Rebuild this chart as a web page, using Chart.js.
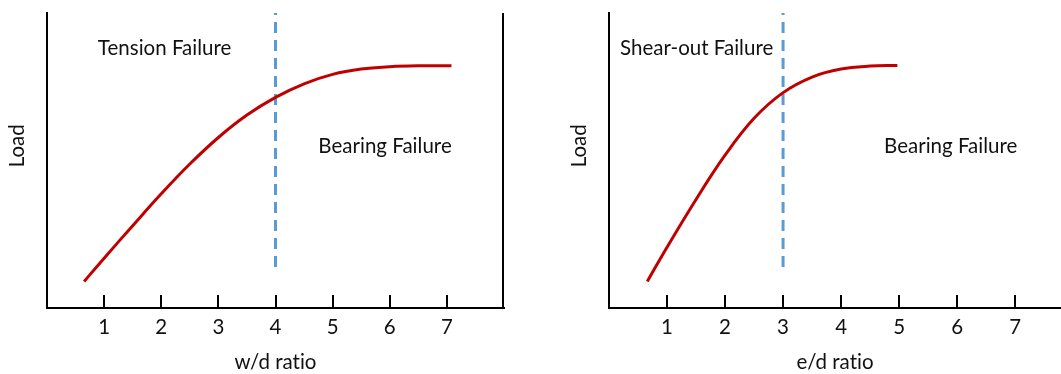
<!DOCTYPE html>
<html><head><meta charset="utf-8">
<script src="https://cdn.jsdelivr.net/npm/chart.js@4/dist/chart.umd.min.js"></script>
<style>
html,body{margin:0;padding:0;background:#fff;width:1061px;height:374px;overflow:hidden}
#a{position:absolute;left:0;top:0;width:530px;height:374px}
#b{position:absolute;left:540px;top:0;width:521px;height:374px}
</style></head><body>
<div id="a"><canvas id="c1"></canvas></div>
<div id="b"><canvas id="c2"></canvas></div>
<script>
const tickLabels = [1,2,3,4,5,6,7];
const wdRatio = [0.65,1,1.5,2,2.5,3,3.5,4,4.5,5,5.5,6,6.5,7.08];
const wdLoad  = [9.0,16.9,27.9,38.7,48.8,57.8,65.4,71.4,76.0,79.2,81.0,81.8,82.1,82.1];
const edRatio = [0.66,1,1.5,2,2.5,3,3.5,4,4.5,4.97];
const edLoad  = [9.0,20.6,36.8,51.8,64.3,73.0,78.3,81.0,82.0,82.2];
const wdLimit = 4;
const edLimit = 3;
const limitLoad = [13.9, 100];

const FONT = 'Lato, "Open Sans", sans-serif';
const INK = '#111';
const FS = 20.5;

function pts(xs, ys){ return xs.map((x,i)=>({x:x,y:ys[i]})); }

const decor = {
  id:'decor',
  beforeDraw(chart){
    try { chart.ctx.letterSpacing = '0.01px'; } catch(e) {}
  },
  afterDraw(chart, args, o){
    const ctx = chart.ctx, xs = chart.scales.x, ys = chart.scales.y, ca = chart.chartArea;
    ctx.save();
    ctx.strokeStyle = '#000'; ctx.lineWidth = 2;
    tickLabels.forEach(v=>{
      const px = Math.round(xs.getPixelForValue(v));
      ctx.beginPath(); ctx.moveTo(px, ca.bottom); ctx.lineTo(px, ca.bottom-13); ctx.stroke();
    });
    if (o.rightBorder){
      ctx.beginPath(); ctx.moveTo(ca.right-1, ca.top); ctx.lineTo(ca.right-1, ca.bottom+1); ctx.stroke();
    }
    ctx.fillStyle = INK; ctx.font = FS + 'px ' + FONT; ctx.textBaseline = 'middle'; ctx.textAlign = 'left';
    o.labels.forEach(l=>{
      ctx.fillText(l.text, xs.getPixelForValue(l.x), ys.getPixelForValue(l.y));
    });
    ctx.translate(o.loadX, ys.getPixelForValue(o.loadY));
    ctx.rotate(-Math.PI/2);
    ctx.textAlign = 'center';
    ctx.fillText('Load', 0, 0);
    ctx.restore();
  }
};

function make(id, xs, ys, limit, title, xmax, yWidth, padRight, opts){
  return new Chart(document.getElementById(id), {
    type:'scatter',
    data:{datasets:[
      {data:pts(xs,ys), showLine:true, borderColor:'#C00000', borderWidth:3, pointRadius:0, tension:0.4, fill:false},
      {data:pts([limit,limit],limitLoad), showLine:true, borderColor:'#5B9BD5', borderWidth:3, borderDash:[11,7], pointRadius:0, fill:false}
    ]},
    options:{
      animation:false, responsive:true, maintainAspectRatio:false,
      layout:{padding:{top:13,right:padRight,left:0,bottom:0}},
      plugins:{legend:{display:false}, tooltip:{enabled:false}, decor:opts},
      scales:{
        x:{type:'linear', min:0, max:xmax,
          afterBuildTicks(s){ s.ticks = tickLabels.map(v=>({value:v})); },
          afterFit(s){ s.height = 66; },
          grid:{display:false, drawTicks:false},
          border:{display:true, color:'#000', width:2},
          ticks:{color:INK, font:{family:FONT, size:FS}, padding:7, maxRotation:0, autoSkip:false},
          title:{display:true, text:title, color:INK, font:{family:FONT, size:FS}, padding:{top:0,bottom:-1}}
        },
        y:{type:'linear', min:0, max:100,
          afterFit(s){ s.width = yWidth; },
          grid:{display:false, drawTicks:false},
          border:{display:true, color:'#000', width:2},
          ticks:{display:false}
        }
      }
    },
    plugins:[decor]
  });
}

make('c1', wdRatio, wdLoad, wdLimit, 'w/d ratio', 8, 47, 26, {
  rightBorder:true, loadX:17, loadY:55,
  labels:[{text:'Tension Failure', x:0.89, y:88.1},{text:'Bearing Failure', x:4.75, y:54.9}]
});
make('c2', edRatio, edLoad, edLimit, 'e/d ratio', 7.79, 69, 0, {
  rightBorder:false, loadX:39, loadY:55,
  labels:[{text:'Shear-out Failure', x:0.19, y:88.1},{text:'Bearing Failure', x:4.74, y:54.9}]
});
</script>
</body></html>
